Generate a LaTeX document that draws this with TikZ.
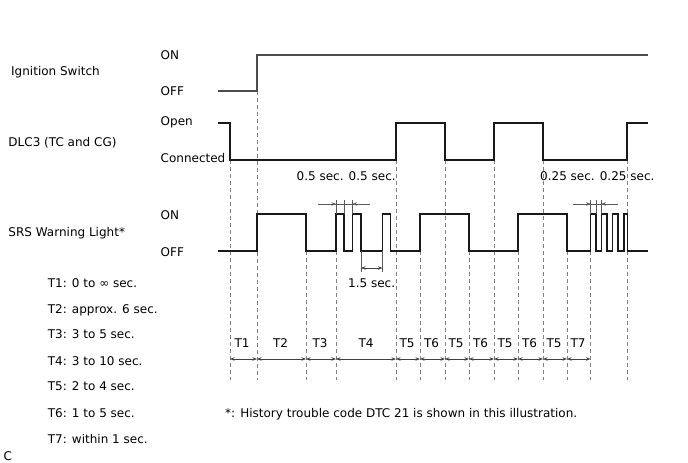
\documentclass[tikz,border=0pt]{standalone}
\usepackage{fontspec}
\setmainfont{DejaVu Sans}
\usetikzlibrary{arrows.meta}
\begin{document}
\begin{tikzpicture}[x=1pt,y=-1pt,
  lbl/.style={anchor=base west,inner sep=0pt,font=\fontsize{12}{14}\selectfont},
  ctr/.style={anchor=base,inner sep=0pt,font=\fontsize{12}{14}\selectfont},
  sig/.style={line width=1.2pt,draw=black!90},
  ign/.style={line width=2pt,draw=black!70},
  guide/.style={line width=1pt,draw=black!50,dash pattern=on 4pt off 3pt},
  ext/.style={line width=0.7pt,draw=black!65},
  tip/.style={-{Stealth[length=4.5pt,width=3.5pt]}},
  dim/.style={line width=0.8pt,draw=black!75,{Stealth[length=4.5pt,width=3.5pt]}-{Stealth[length=4.5pt,width=3.5pt]}},
]
\useasboundingbox (0,0) rectangle (688,463);
% guide lines
\foreach \x/\y in {230/160,257/91,306/251,336/251,396/160,420/251,445/160,469/251,494/160,518/251,543/160,567/251,590.5/251,627/160}
  \draw[guide] (\x,\y) -- (\x,380);
% signals
\draw[ign] (218,91) -- (257,91) -- (257,55) -- (648,55);
\draw[sig] (218,123) -| (230,160) -| (396,123) -| (445,160) -| (494,123) -| (543,160) -| (627,123) -- (648,123);
\draw[sig] (218,251) -| (257,214) -| (306,251) -| (336,214) -| (344,251) -| (352.5,214) -| (361,251) -| (382.5,214) -| (390.5,251) -| (420,214) -| (469,251) -| (518,214) -| (567,251) -| (590.5,214) -| (596,251) -| (601.5,214) -| (607,251) -| (612.5,214) -| (618,251) -| (624,214) -| (627.5,251) -- (648,251);
% 0.5 sec markers
\foreach \x in {336,344,352.5} \draw[ext] (\x,200) -- (\x,214);
\draw[ext] (318,204) -- (370,204);
\draw[ext,tip] (320,204) -- (336,204);
\draw[ext,tip] (368,204) -- (352.5,204);
% 0.25 sec markers
\foreach \x in {590.5,596,601.5} \draw[ext] (\x,200) -- (\x,214);
\draw[ext] (573,204) -- (618,204);
\draw[ext,tip] (575,204) -- (590.5,204);
\draw[ext,tip] (616,204) -- (601.5,204);
% 1.5 sec
\foreach \x in {361,382.5} \draw[ext] (\x,251) -- (\x,272);
\draw[dim] (361,268) -- (382.5,268);
% timing arrows
\foreach \a/\b in {230/257,257/306,306/336,336/396,396/420,420/445,445/469,469/494,494/518,518/543,543/567,567/590.5}
  \draw[dim] (\a,359) -- (\b,359);
% timing labels
\foreach \x/\t [count=\i] in {242/T1,280.5/T2,320/T3,366/T4,407/T5,431.5/T6,456/T5,480.5/T6,505/T5,529.5/T6,554/T5,578/T7}
  \node[ctr] (t\i) at (\x,347.5) {\t};
% signal labels
\node[lbl] (ign) at (11,75.3) {Ignition Switch};
\node[lbl] (ignon) at (160.5,59.3) {ON};
\node[lbl] (ignoff) at (160.5,95.7) {OFF};
\node[lbl] (dlc) at (8.3,146.7) {DLC3 (TC and CG)};
\node[lbl] (open) at (160.5,125.3) {Open};
\node[lbl] (conn) at (160.5,162.7) {Connected};
\node[lbl] (srs) at (8.3,236) {SRS Warning Light*};
\node[lbl] (srson) at (160.5,219.3) {ON};
\node[lbl] (srsoff) at (160.5,256) {OFF};
\node[lbl] (half) at (296.5,180.5) {0.5 sec. 0.5 sec.};
\node[lbl] (quarter) at (540,180.5) {0.25 sec. 0.25 sec.};
\node[lbl] (onehalf) at (348,287.5) {1.5 sec.};
% legend
\node[lbl] (l1) at (47.7,287.5) {T1: 0 to ∞ sec.};
\node[lbl] (l2) at (47.7,313) {T2: approx. 6 sec.};
\node[lbl] (l3) at (47.7,338.5) {T3: 3 to 5 sec.};
\node[lbl] (l4) at (47.7,365) {T4: 3 to 10 sec.};
\node[lbl] (l5) at (47.7,390.5) {T5: 2 to 4 sec.};
\node[lbl] (l6) at (47.7,417) {T6: 1 to 5 sec.};
\node[lbl] (l7) at (47.7,443) {T7: within 1 sec.};
\node[lbl] (note) at (225,417) {*: History trouble code DTC 21 is shown in this illustration.};
\node[lbl] (c) at (3.3,460.5) {C};
\end{tikzpicture}
\end{document}
